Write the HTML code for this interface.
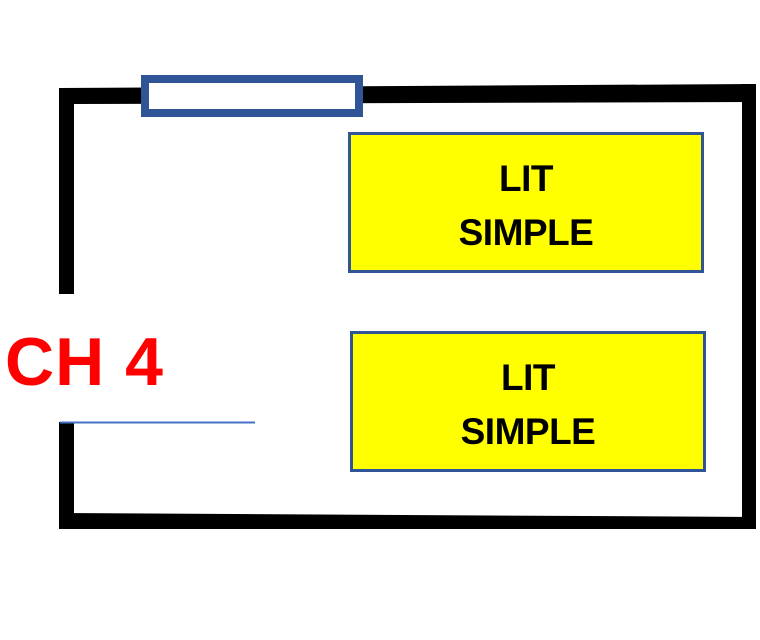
<!DOCTYPE html>
<html><head><style>
body{margin:0;width:760px;height:640px;background:#fff;position:relative;overflow:hidden;font-family:"Liberation Sans",sans-serif}
.a{position:absolute}
.y{position:absolute;background:#ffff00;border:3px solid #2f5597;box-sizing:border-box;text-align:center;font-weight:bold;font-size:37px;line-height:54px;color:#000;padding-top:17px;letter-spacing:-0.5px}
</style></head><body>
<svg class="a" style="left:0;top:0" width="760" height="640">
<polygon points="59,88 755,84 755,102 74,104" fill="#000"/>
<rect x="59" y="88" width="15" height="206" fill="#000"/>
<polygon points="742,84 756,84 756,520 742,520" fill="#000"/>
<rect x="59" y="422" width="15" height="106" fill="#000"/>
<polygon points="59,513 756,517 756,529 59,529" fill="#000"/>
<line x1="60" y1="422.5" x2="255" y2="422.5" stroke="#4472c4" stroke-width="2"/>
<rect x="145" y="79" width="214" height="34" fill="#fff" stroke="#2f5597" stroke-width="8"/>
</svg>
<div class="y" style="left:348px;top:132px;width:356px;height:141px">LIT<br>SIMPLE</div>
<div class="y" style="left:350px;top:331px;width:356px;height:141px">LIT<br>SIMPLE</div>
<div class="a" style="left:5px;top:322px;font-size:68px;font-weight:bold;color:#ff0000;line-height:80px;letter-spacing:1px">CH 4</div>
</body></html>
